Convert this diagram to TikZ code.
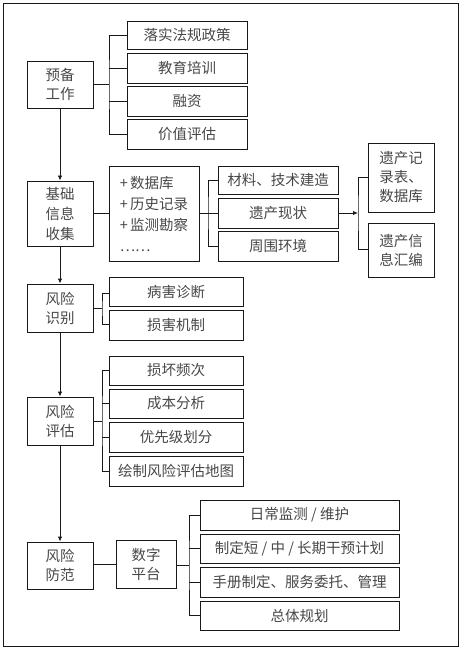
\documentclass[tikz,border=0pt]{standalone}
\usepackage{fontspec}
\setmainfont{Noto Sans CJK SC}
\usetikzlibrary{arrows.meta}
\begin{document}
\begin{tikzpicture}[x=1pt,y=-1pt,
  box/.style={draw=black!90,line width=0.9pt,rectangle,inner sep=0pt,align=center,
    font=\fontsize{14.5}{19}\selectfont,text=black!72},
  ln/.style={draw=black!90,line width=0.9pt},
  arr/.style={ln,-{Latex[length=5pt,width=4.5pt]}}]
\useasboundingbox (0,0) rectangle (463,652);
\draw[ln] (3,3) rectangle (458,646);
% preparation
\node[box,minimum width=66pt,minimum height=47pt] (prep) at (60,84.5) {预备\\工作};
\node[box,minimum width=120pt,minimum height=28pt] (p1) at (187,35) {落实法规政策};
\node[box,minimum width=120pt,minimum height=30pt] (p2) at (187,68) {教育培训};
\node[box,minimum width=120pt,minimum height=30pt] (p3) at (187,101) {融资};
\node[box,minimum width=120pt,minimum height=30pt] (p4) at (187,134) {价值评估};
\coordinate (pj) at (109,84.5);
\draw[ln] (prep.east) -- (pj);
\draw[ln] (p1.west) -| (pj) |- (p4.west);
\draw[ln] (p2.west) -- (p2.west -| pj);
\draw[ln] (p3.west) -- (p3.west -| pj);
% information
\node[box,minimum width=66pt,minimum height=65pt,font=\fontsize{14.5}{20}\selectfont] (info) at (60,213.5) {基础\\信息\\收集};
\node[box,minimum width=90pt,minimum height=95pt,align=left,font=\fontsize{14.5}{21}\selectfont] (list) at (154,213.5) {+\,数据库\\+\,历史记录\\+\,监测勘察\\……};
\node[box,minimum width=120pt,minimum height=28pt] (i1) at (278,180) {材料、技术建造};
\node[box,minimum width=120pt,minimum height=30pt] (i2) at (278,213) {遗产现状};
\node[box,minimum width=120pt,minimum height=30pt] (i3) at (278,246) {周围环境};
\draw[ln] (info.east) -- (info.east -| list.west);
\coordinate (ij) at (208,213);
\draw[ln] (list.east |- ij) -- (i2.west);
\draw[ln] (i1.west) -| (ij) |- (i3.west);
\node[box,minimum width=66pt,minimum height=69pt] (r1) at (401,177.5) {遗产记\\录表、\\数据库};
\node[box,minimum width=66pt,minimum height=54pt] (r2) at (401,250) {遗产信\\息汇编};
\coordinate (rj) at (358,213);
\draw[arr] (i2.east) -- (rj);
\draw[ln] (r1.west |- 0,177) -| (rj) |- (r2.west |- 0,249);
% identification
\node[box,minimum width=66pt,minimum height=48pt] (ident) at (60,308) {风险\\识别};
\node[box,minimum width=134pt,minimum height=29pt] (d1) at (176,291.5) {病害诊断};
\node[box,minimum width=134pt,minimum height=30pt] (d2) at (176,325) {损害机制};
\coordinate (dj) at (102,308);
\draw[ln] (ident.east) -- (dj);
\draw[ln] (d1.west |- 0,293) -| (dj) |- (d2.west |- 0,324);
% assessment
\node[box,minimum width=66pt,minimum height=48pt] (assess) at (60,421) {风险\\评估};
\node[box,minimum width=134pt,minimum height=29pt] (a1) at (176,370.5) {损坏频次};
\node[box,minimum width=134pt,minimum height=29pt] (a2) at (176,403.5) {成本分析};
\node[box,minimum width=134pt,minimum height=30pt] (a3) at (176,437) {优先级划分};
\node[box,minimum width=134pt,minimum height=30pt] (a4) at (176,471) {绘制风险评估地图};
\coordinate (aj) at (102,421);
\draw[ln] (assess.east) -- (aj);
\draw[ln] (a1.west) -| (aj) |- (a4.west);
\draw[ln] (a2.west) -- (a2.west -| aj);
\draw[ln] (a3.west) -- (a3.west -| aj);
% prevention
\node[box,minimum width=66pt,minimum height=47pt] (prev) at (60,565.5) {风险\\防范};
\node[box,minimum width=60pt,minimum height=48pt] (digit) at (146,564) {数字\\平台};
\node[box,minimum width=199pt,minimum height=30pt] (b1) at (299.5,515) {日常监测 / 维护};
\node[box,minimum width=199pt,minimum height=29pt] (b2) at (299.5,548.5) {制定短 / 中 / 长期干预计划};
\node[box,minimum width=199pt,minimum height=30pt] (b3) at (299.5,582) {手册制定、服务委托、管理};
\node[box,minimum width=199pt,minimum height=29pt] (b4) at (299.5,615.5) {总体规划};
\draw[ln] (prev.east |- digit.west) -- (digit.west);
\coordinate (bj) at (189,565);
\draw[ln] (digit.east |- bj) -- (bj);
\draw[ln] (b1.west) -| (bj) |- (b4.west);
\draw[ln] (b2.west) -- (b2.west -| bj);
\draw[ln] (b3.west) -- (b3.west -| bj);
% main flow
\draw[arr] (prep.south) -- (info.north);
\draw[arr] (info.south) -- (ident.north);
\draw[arr] (ident.south) -- (assess.north);
\draw[arr] (assess.south) -- (prev.north);
\end{tikzpicture}
\end{document}
